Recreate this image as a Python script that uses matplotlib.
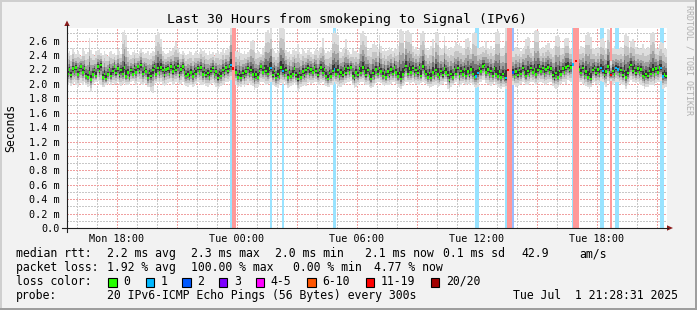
import numpy as np
import matplotlib
matplotlib.use("Agg")
import matplotlib.pyplot as plt
from matplotlib.colors import to_rgb
from matplotlib.patches import Rectangle, Polygon
from matplotlib.lines import Line2D

# ---- data: one value per 5 minute step (360 steps = 30 h), in 1/100 ms ----
median_rtt = [
    214, 220, 212, 221, 217, 223, 213, 219, 224, 216, 221, 211,
    209, 216, 206, 213, 219, 211, 224, 218, 226, 209, 214, 207,
    213, 220, 211, 218, 224, 215, 221, 212, 219, 214, 223, 210,
    216, 208, 219, 213, 222, 216, 224, 218, 226, 214, 221, 217,
    208, 215, 211, 219, 224, 213, 222, 216, 223, 219, 212, 220,
    221, 214, 224, 217, 223, 219, 225, 212, 220, 224, 216, 211,
    213, 208, 216, 210, 218, 214, 222, 217, 223, 213, 219, 212,
    215, 209, 218, 222, 213, 217, 208, 214, 211, 219, 215, 223,
    218, 224, 226, 221, None, 216, 209, 214, 208, 215, 211, 217,
    222, 214, 219, 213, 207, 213, 209, 218, 224, 216, 222, 218,
    214, 221, 222, 212, 218, 208, 214, 210, 223, 218, 212, 219,
    209, 216, 210, 214, 221, 212, 207, 215, 209, 217, 212, 219,
    222, 214, 220, 216, 223, 218, 212, 219, 223, 215, 220, 211,
    207, 215, 210, 218, 220, 213, 219, 210, 216, 212, 221, 215,
    222, 216, 223, 211, 208, 216, 212, 221, 215, 223, 217, 212,
    219, 210, 207, 215, 211, 220, 214, 222, 217, 211, 216, 209,
    217, 212, 220, 214, 223, 216, 210, 215, 207, 213, 219, 225,
    214, 221, 216, 222, 213, 219, 215, 223, 211, 224, 217, 214,
    209, 215, 208, 216, 211, 219, 213, 209, 218, 212, 221, 216,
    212, 205, 214, 209, 220, 214, 222, 210, 218, 213, 220, 211,
    217, 212, 220, 214, 209, 210, 215, 221, 217, 224, 226, 216,
    220, 213, 218, 211, 221, 214, 210, 217, 209, 214, 208, 208,
    219, None, None, 216, 210, 217, 212, 219, 214, 222, 216, 211,
    218, 213, 222, 216, 220, 213, 219, 224, 217, 222, 214, 220,
    223, 216, 221, 212, 208, 215, 209, 218, 213, 221, 216, 223,
    225, 219, 223, 227, None, 232, None, 220, 215, 222, 211, 217,
    209, 214, 207, 219, 222, 215, 220, 214, 222, 218, 212, 217,
    224, 216, 212, 218, 213, 222, 220, 214, 219, 212, 218, 209,
    215, 223, 226, 218, 222, 215, 221, 216, 220, 211, 209, 214,
    211, 218, 214, 220, 213, 221, 216, 223, 222, 210, 213, 211,
]
ping_max = [
    243, 246, 240, 250, 244, 241, 246, 242, 239, 248, 245, 241,
    244, 263, 247, 241, 238, 245, 247, 249, 243, 240, 245, 242,
    239, 244, 246, 241, 243, 240, 248, 245, 242, 272, 275, 268,
    246, 242, 240, 244, 247, 243, 241, 246, 250, 244, 241, 243,
    245, 240, 243, 246, 244, 268, 272, 270, 262, 246, 243, 241,
    243, 247, 245, 249, 252, 258, 250, 244, 241, 246, 243, 240,
    242, 246, 244, 240, 243, 245, 241, 244, 248, 246, 247, 243,
    240, 245, 242, 244, 239, 243, 246, 241, 244, 248, 243, 247,
    248, 252, 285, 232, None, 246, 244, 249, 243, 241, 245, 242,
    244, 247, 259, 261, 258, 243, 246, 244, 242, 249, 252, 272,
    275, 270, 278, 248, 245, 243, 246, 278, 280, 279, 276, 247,
    244, 245, 242, 247, 248, 246, 255, 244, 242, 248, 245, 243,
    247, 250, 244, 242, 246, 249, 245, 248, 251, 264, 247, 243,
    245, 244, 247, 270, 273, 271, 268, 246, 244, 249, 251, 262,
    247, 244, 242, 248, 245, 246, 243, 249, 270, 273, 268, 266,
    247, 250, 249, 255, 258, 254, 248, 268, 252, 246, 249, 245,
    247, 251, 249, 246, 250, 248, 252, 275, 276, 274, 250, 273,
    275, 272, 270, 252, 248, 251, 247, 249, 270, 273, 269, 250,
    247, 249, 252, 262, 248, 272, 270, 251, 248, 250, 266, 252,
    249, 247, 251, 250, 253, 258, 254, 256, 252, 250, 248, 262,
    264, 260, 249, 271, 272, 270, 250, 248, 251, 253, 249, 259,
    250, 248, 252, 249, 247, 272, 273, 271, 250, 248, 252, 280,
    232, None, None, 245, 248, 251, 249, 250, 246, 249, 252, 262,
    265, 263, 250, 248, 274, 275, 273, 250, 248, 251, 249, 254,
    257, 256, 250, 248, 252, 267, 268, 265, 250, 249, 262, 264,
    263, 250, 248, 268, None, 240, None, 249, 252, 251, 249, 268,
    272, 270, 265, 250, 249, 248, 251, 249, 262, 263, 260, 250,
    276, 275, 232, 250, 252, 249, 248, 250, 251, 249, 268, 270,
    266, 250, 260, 262, 258, 251, 249, 250, 248, 255, 250, 249,
    251, 250, 270, 272, 271, 250, 249, 255, 258, 256, 250, 248,
]
ping_min = [
    199, 201, 197, 200, 202, 198, 196, 200, 201, 199, 203, 198,
    196, 197, 189, 199, 201, 203, 204, 200, 198, 195, 196, 199,
    200, 202, 199, 201, 198, 200, 202, 199, 197, 200, 201, 199,
    198, 200, 202, 204, 201, 199, 203, 202, 200, 199, 201, 200,
    195, 196, 190, 188, 199, 201, 203, 200, 202, 199, 197, 199,
    201, 203, 202, 199, 200, 202, 201, 199, 200, 203, 198, 197,
    196, 199, 198, 195, 197, 200, 202, 201, 199, 198, 200, 197,
    196, 198, 200, 201, 198, 196, 193, 195, 197, 199, 200, 202,
    203, 204, 205, 212, None, 199, 195, 197, 196, 199, 196, 198,
    200, 201, 199, 197, 192, 194, 196, 199, 202, 203, 201, 199,
    200, 201, 203, 199, 197, 195, 194, 199, 201, 200, 202, 199,
    194, 196, 197, 199, 201, 198, 190, 193, 196, 197, 199, 197,
    201, 202, 200, 201, 203, 202, 199, 198, 201, 202, 199, 197,
    195, 196, 198, 199, 202, 200, 197, 196, 195, 199, 200, 201,
    202, 203, 204, 198, 194, 196, 199, 201, 203, 202, 200, 199,
    199, 196, 194, 196, 198, 201, 203, 202, 201, 199, 197, 198,
    198, 199, 200, 202, 203, 200, 196, 194, 193, 197, 199, 203,
    202, 199, 201, 202, 201, 200, 199, 198, 201, 203, 201, 200,
    197, 194, 196, 197, 199, 198, 196, 197, 199, 200, 202, 203,
    193, 190, 196, 198, 201, 202, 200, 196, 198, 201, 200, 199,
    200, 199, 201, 198, 196, 194, 196, 202, 203, 205, 206, 201,
    200, 198, 197, 200, 202, 199, 196, 194, 193, 195, 196, 193,
    212, None, None, 199, 198, 196, 197, 198, 200, 202, 201, 199,
    199, 201, 203, 202, 201, 199, 201, 202, 203, 201, 200, 199,
    201, 203, 202, 197, 194, 193, 195, 198, 200, 202, 203, 200,
    205, 204, 203, 207, None, 212, None, 203, 202, 200, 198, 197,
    195, 193, 196, 201, 202, 200, 199, 201, 204, 203, 199, 196,
    204, 200, 204, 198, 201, 203, 202, 201, 200, 198, 199, 193,
    198, 203, 205, 203, 202, 201, 202, 200, 199, 197, 193, 195,
    196, 198, 199, 198, 197, 201, 202, 203, 204, 193, 194, 196,
]
loss_steps = [98, 99, 100, 122, 129, 160, 245, 246, 263, 264, 265, 266, 267,
              303, 304, 305, 306, 320, 321, 326, 329, 330, 356, 357]
loss_pings = [1, 14, 14, 1, 1, 1, 1, 1, 1, 14, 14, 14, 2,
              1, 14, 14, 14, 1, 1, 14, 1, 1, 1, 1]

loss_labels = ["0", "1", "2", "3", "4-5", "6-10", "11-19", "20/20"]
loss_upper = [0, 1, 2, 3, 5, 10, 19, 20]
loss_colors = ["#26ff00", "#00b8ff", "#0059ff", "#7e00ff",
               "#ff00ff", "#ff5500", "#ff0000", "#a10000"]

x_tick_hours = [18, 24, 30, 36, 42]          # hours since Mon 00:00
x_tick_labels = ["Mon 18:00", "Tue 00:00", "Tue 06:00", "Tue 12:00", "Tue 18:00"]
y_ticks = [0.0, 0.2, 0.4, 0.6, 0.8, 1.0, 1.2, 1.4, 1.6, 1.8, 2.0, 2.2, 2.4, 2.6]
y_tick_labels = ["0.0"] + ["%.1f m" % v for v in y_ticks[1:]]

legend_rows = [
    [("median rtt:", 16), ("2.2 ms avg", 107.3), ("2.3 ms max", 190.7),
     ("2.0 ms min", 275), ("2.1 ms now", 365), ("0.1 ms sd", 442.7),
     ("42.9", 521.7), ("am/s", 579.3)],
    [("packet loss:", 16), ("1.92 % avg", 107.3), ("100.00 % max", 190.7),
     ("0.00 % min", 292.7), ("4.77 % now", 374.3)],
    [("loss color:", 16)],
    [("probe:", 16), ("20 IPv6-ICMP Echo Pings (56 Bytes) every 300s", 107.3),
     ("Tue Jul  1 21:28:31 2025", 513.3)],
]
loss_box_x = [108.3, 145.7, 182.3, 219, 255.7, 307.3, 365.7, 430.7]

title = "Last 30 Hours from smokeping to Signal (IPv6)"

# ---- layout ----
W, H = 697, 310
MONO = "DejaVu Sans Mono"
plt.rcParams["font.family"] = MONO
T0 = 15.515                      # left edge, hours since Mon 00:00
STEP = 1 / 12.0
YTOP = 2.775


def fx(px):
    return px / W


def fy(py):
    return 1 - py / H


def loss_color(n):
    for upper, col in zip(loss_upper, loss_colors):
        if n <= upper:
            return col
    return loss_colors[-1]


def pale(col, a=0.4):
    # colour blended onto white, so overlapping bars keep one tone
    r, g, b = to_rgb(col)
    return (1 - a + a * r, 1 - a + a * g, 1 - a + a * b)


fig = plt.figure(figsize=(W / 100, H / 100), dpi=100, facecolor="#f2f2f2")
ax = fig.add_axes([fx(67), fy(228), 600 / W, 200 / H])
ax.set_facecolor("white")
ax.set_xlim(T0, T0 + 30)
ax.set_ylim(0, YTOP)
for s in ax.spines.values():
    s.set_visible(False)

# grid
for hr in range(16, 46):
    major = hr % 3 == 0
    ax.axvline(hr, color="#f0a0a0" if major else "#c8c8c8", lw=0.75,
               ls=(0, (1, 1)), zorder=1, antialiased=False)
for k in range(1, 28):
    major = k % 2 == 0
    ax.axhline(k / 10, color="#f0a0a0" if major else "#c8c8c8", lw=0.75,
               ls=(0, (1, 1)), zorder=1, antialiased=False)

med = np.array(median_rtt, dtype=float) / 100
hi = np.array(ping_max, dtype=float) / 100
lo = np.array(ping_min, dtype=float) / 100
n = len(med)
edges = T0 + np.arange(n + 1) * STEP

# loss bars (a bit wider than one step, like the antialiased rrdtool bars)
for st, lp in zip(loss_steps, loss_pings):
    ax.bar(edges[st] + STEP / 2, YTOP, width=STEP * 1.4,
           color=pale(loss_color(lp)), lw=0, zorder=2)

# smoke
weights = [1.0, 0.72, 0.48, 0.3, 0.15]
shades = ["#dddddd", "#c4c4c4", "#a0a0a0", "#747474", "#383838"]
for w, c in zip(weights, shades):
    low = med - w * (med - lo)
    high = med + w * (hi - med)
    ax.fill_between(edges, np.append(low, low[-1]), np.append(high, high[-1]),
                    step="post", color=c, lw=0, zorder=3)

# median marks coloured by loss
step_loss = np.zeros(n, dtype=int)
step_loss[loss_steps] = loss_pings
sw = 0.017
ok = ~np.isnan(med)
ax.bar(edges[:-1][ok], 2 * sw, bottom=med[ok] - sw, width=STEP, align="edge",
       color=[loss_color(v) for v in step_loss[ok]], lw=0, zorder=4)

# ticks
ax.set_xticks(x_tick_hours)
ax.set_xticklabels(x_tick_labels)
ax.set_yticks(y_ticks)
ax.set_yticklabels(y_tick_labels)
ax.tick_params(axis="x", length=0, pad=4.3, labelsize=7.3)
ax.tick_params(axis="y", length=0, pad=5.4, labelsize=7.3)

# axes lines and arrows
fig.add_artist(Line2D([fx(62), fx(668)], [fy(228), fy(228)], color="#202020", lw=0.8))
fig.add_artist(Line2D([fx(67), fx(67)], [fy(232), fy(25)], color="#202020", lw=0.8))
fig.add_artist(Polygon([(fx(64.3), fy(26)), (fx(69.7), fy(26)), (fx(67), fy(20.5))],
                       closed=True, color="#8b1a1a", lw=0))
fig.add_artist(Polygon([(fx(667), fy(225.3)), (fx(667), fy(230.7)), (fx(673), fy(228))],
                       closed=True, color="#8b1a1a", lw=0))

# border shading
fig.add_artist(Rectangle((0, fy(2)), 1, 2 / H, color="#cfcfcf", lw=0))
fig.add_artist(Rectangle((0, 0), 2 / W, 1, color="#cfcfcf", lw=0))
fig.add_artist(Rectangle((0, 0), 1, 2 / H, color="#9e9e9e", lw=0))
fig.add_artist(Rectangle((fx(695), 0), 2 / W, 1, color="#9e9e9e", lw=0))

# texts
fig.text(fx(347), fy(23), title, ha="center", va="baseline", fontsize=9.5)
fig.text(fx(11), fy(128), "Seconds", rotation=90, ha="center", va="center", fontsize=8.3)
fig.text(fx(689), fy(60), "RRDTOOL / TOBI OETIKER", rotation=270, ha="center",
         va="center", fontsize=6, color="#b0b0b0")

row_base = [257.3, 271, 285, 299]
for row, yb in zip(legend_rows, row_base):
    for txt, x in row:
        fig.text(fx(x), fy(yb), txt, ha="left", va="baseline", fontsize=8.3)

for bx, lab, col in zip(loss_box_x, loss_labels, loss_colors):
    fig.add_artist(Rectangle((fx(bx), fy(286.7)), 8.4 / W, 8.4 / H,
                             facecolor=col, edgecolor="black", lw=0.8))
    fig.text(fx(bx + 15), fy(285), lab, ha="left", va="baseline", fontsize=8.3)

fig.savefig("out.png", dpi=100, facecolor=fig.get_facecolor())
